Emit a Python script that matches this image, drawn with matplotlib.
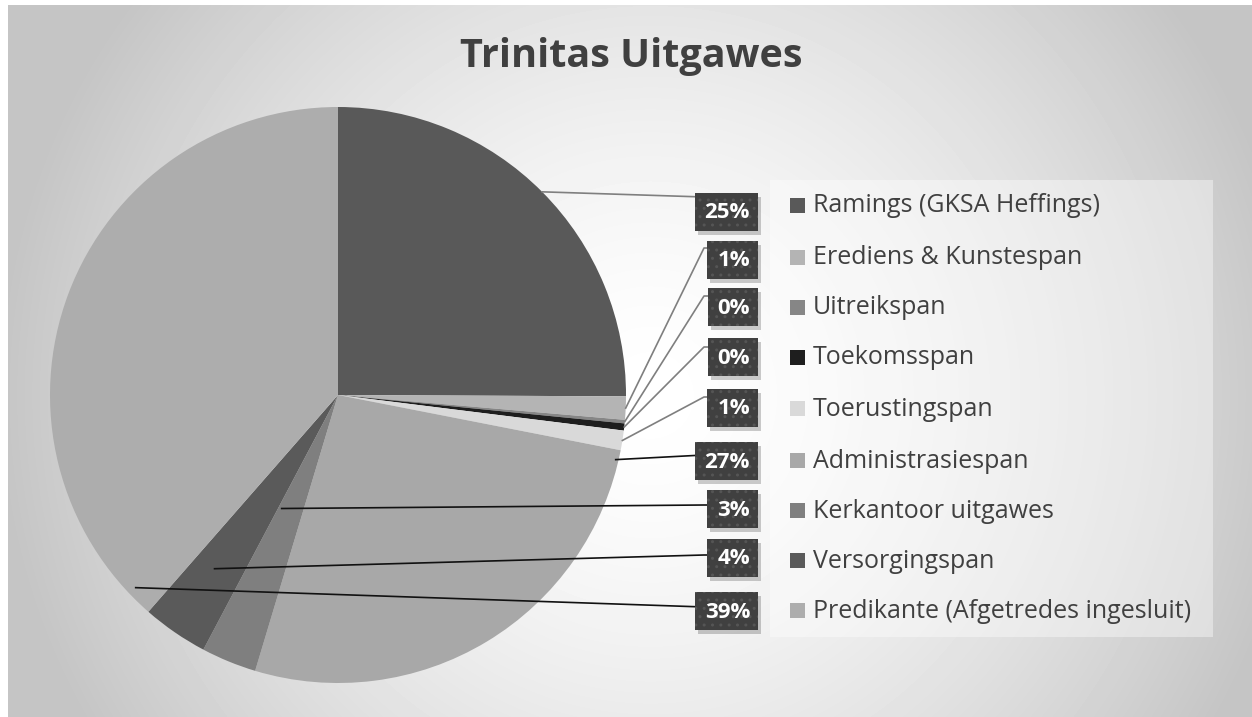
import numpy as np
import matplotlib.pyplot as plt
from matplotlib.patches import Rectangle

# data
kategorie = ['Ramings (GKSA Heffings)', 'Erediens & Kunstespan', 'Uitreikspan', 'Toekomsspan',
             'Toerustingspan', 'Administrasiespan', 'Kerkantoor uitgawes', 'Versorgingspan',
             'Predikante (Afgetredes ingesluit)']
bedrae = [25.1, 1.3, 0.2, 0.4, 1.1, 26.6, 3.1, 3.7, 38.6]
kleure = ['#595959', '#b4b4b4', '#868686', '#1e1e1e', '#d9d9d9',
          '#a8a8a8', '#7f7f7f', '#5a5a5a', '#adadad']
titel = 'Trinitas Uitgawes'

plt.rcParams['font.family'] = ['Open Sans', 'DejaVu Sans']

W, H = 1252, 717
fig = plt.figure(figsize=(W / 100, H / 100), dpi=100)
ax = fig.add_axes([0, 0, 1, 1])

# agtergrond met radiale gradient
yy, xx = np.mgrid[5:H, 8:W]
d = np.hypot(xx - 650, yy - 395) / 650
grys = 255 - 58 * np.clip(d, 0, 1) ** 1.5
ax.imshow(grys, cmap='gray', vmin=0, vmax=255, extent=[8, W, H, 5], zorder=0)

# pie
cx, cy, r = 338, 395, 288
wedges, _ = ax.pie(bedrae, colors=kleure, startangle=-90, counterclock=True,
                   center=(cx, cy), radius=r, frame=True,
                   wedgeprops=dict(linewidth=0))
for w in wedges:
    w.set_zorder(2)

ax.set_xlim(0, W)
ax.set_ylim(H, 0)
ax.set_aspect('equal')
ax.axis('off')

# titel
ax.text(631, 56, titel, ha='center', va='center', fontsize=28.5, fontweight='bold', color='#404040')

# legende
ax.add_patch(Rectangle((770, 180), 443, 457, fc='white', alpha=0.4, lw=0, zorder=1))
leg_y = [205, 257, 307, 357, 408, 460, 510, 560, 610]
for i, naam in enumerate(kategorie):
    ax.add_patch(Rectangle((790, leg_y[i] - 7), 15, 15, fc=kleure[i], lw=0, zorder=3))
    ax.text(813, leg_y[i] + 1, naam, ha='left', va='center', fontsize=18, color='#404040', zorder=3)

# data-etikette met leierlyne
pct = np.array(bedrae) / sum(bedrae) * 100
lab_y = [212, 260, 307, 357, 408, 461, 509, 558, 611]
lyn_y = [197, 248, 296, 347, 397, 455, 505, 555, 607]
lyn_kl = ['#7f7f7f'] * 5 + ['#111111'] * 4
# verskuifde ankers vir die groot skywe (hoek, radius-fraksie)
ankers = {5: (13.1, 0.99), 6: (116.4, 0.44), 7: (125.4, 0.74), 8: (136.4, 0.97)}
etikette = []
for i, w in enumerate(wedges):
    if i in ankers:
        th, f = ankers[i]
    else:
        th, f = (w.theta1 + w.theta2) / 2, 1.0
    px = cx + f * r * np.cos(np.radians(th))
    py = cy + f * r * np.sin(np.radians(th))
    ax.plot([px, 704, 714], [py, lyn_y[i], lyn_y[i]], color=lyn_kl[i], lw=1.2, zorder=4)
    t = ax.text(750, lab_y[i] + 1, f'{round(pct[i])}%', ha='right', va='center', fontsize=16,
                fontweight='bold', color='white', zorder=7)
    etikette.append(t)

# kassies agter die etikette, volgens teksbreedte
fig.canvas.draw()
ren = fig.canvas.get_renderer()
for i, t in enumerate(etikette):
    bb = t.get_window_extent(ren)
    breed = bb.width + 18
    x0 = 758 - breed
    y0 = lab_y[i] - 19
    ax.add_patch(Rectangle((x0 + 3, y0 + 4), breed, 38, fc='black', alpha=0.2, lw=0, zorder=5))
    ax.add_patch(Rectangle((x0, y0), breed, 38, fc='#404040', ec='#555555', hatch='..',
                           lw=0, zorder=6))

fig.savefig('out.png', dpi=100)
